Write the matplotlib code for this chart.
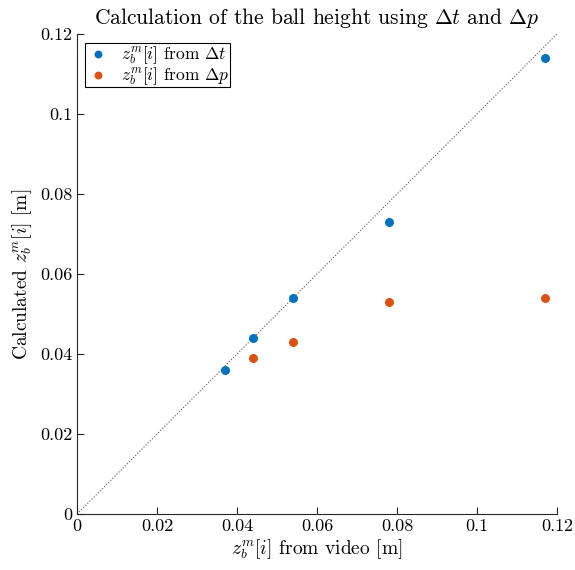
import matplotlib
matplotlib.use('Agg')
import matplotlib.pyplot as plt
from matplotlib.ticker import FuncFormatter

# measured heights from video [m]
z_video = [0.037, 0.044, 0.054, 0.078, 0.117]
z_from_dt = [0.036, 0.044, 0.054, 0.073, 0.114]
z_video_dp = [0.044, 0.054, 0.078, 0.117]
z_from_dp = [0.039, 0.043, 0.053, 0.054]
ticks = [0, 0.02, 0.04, 0.06, 0.08, 0.1, 0.12]

plt.rcParams['font.family'] = 'serif'
plt.rcParams['font.serif'] = ['cmr10']
plt.rcParams['mathtext.fontset'] = 'cm'
plt.rcParams['axes.formatter.use_mathtext'] = True

axcol = '#262626'
fig = plt.figure(figsize=(5.75, 5.7), dpi=100)
ax = fig.add_axes([0.134, 0.0982, 0.8347, 0.8422])

ax.plot([0, 0.12], [0, 0.12], ':', color='#555555', lw=0.8, zorder=1)
ax.scatter(z_video, z_from_dt, s=30, color='#0072BD', label=r'$z_b^m[i]$ from $\Delta t$', zorder=3)
ax.scatter(z_video_dp, z_from_dp, s=30, color='#D95319', label=r'$z_b^m[i]$ from $\Delta p$', zorder=3)

ax.set_xlim(0, 0.12)
ax.set_ylim(0, 0.12)
ax.set_xticks(ticks)
ax.set_yticks(ticks)
fmt = FuncFormatter(lambda v, p: '%g' % v)
ax.xaxis.set_major_formatter(fmt)
ax.yaxis.set_major_formatter(fmt)
for s in ['top', 'right']:
    ax.spines[s].set_visible(False)
for s in ['left', 'bottom']:
    ax.spines[s].set_color(axcol)
    ax.spines[s].set_linewidth(0.8)
ax.tick_params(direction='in', length=5, width=0.8, colors=axcol, labelsize=13, labelcolor='black')

ax.set_xlabel(r'$z_b^m[i]$ from video [m]', fontsize=14, labelpad=2)
ax.set_ylabel(r'Calculated $z_b^m[i]$ [m]', fontsize=14, labelpad=4)
ax.set_title(r'Calculation of the ball height using $\Delta t$ and $\Delta p$', fontsize=15.5, pad=7)

leg = ax.legend(loc='upper left', bbox_to_anchor=(0.017, 0.981), fontsize=12.5, fancybox=False,
                edgecolor='black', framealpha=1, handletextpad=0.6, borderpad=0.05,
                handlelength=1.4, labelspacing=-0.05, borderaxespad=0, markerscale=0.85)
leg.get_frame().set_linewidth(0.8)

fig.savefig('out.png', dpi=100)
